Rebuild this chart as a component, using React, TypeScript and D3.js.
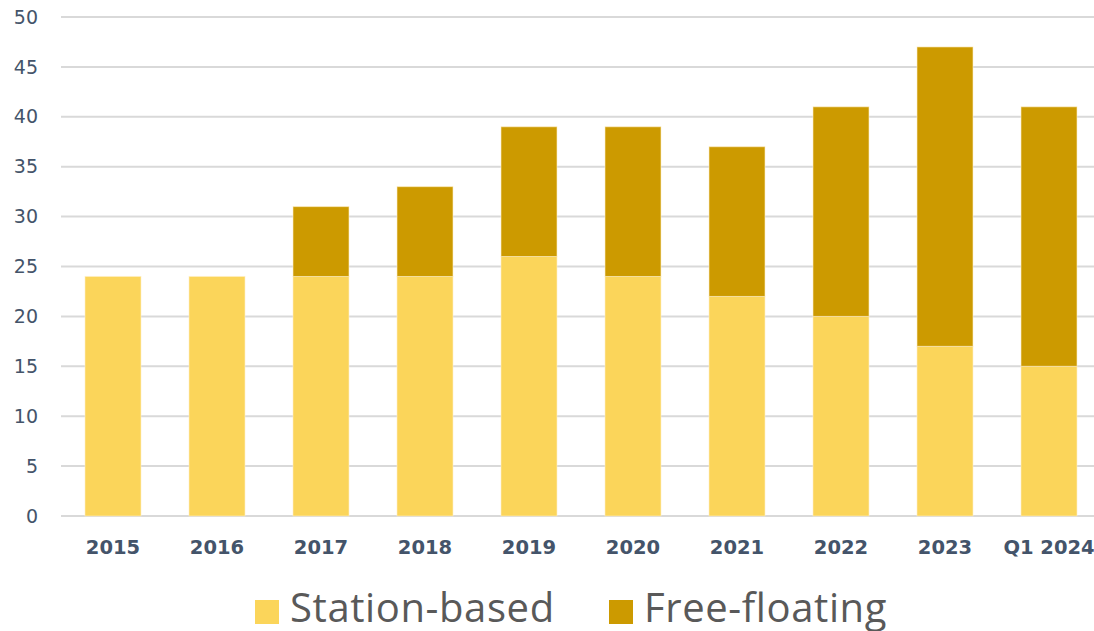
import React from "react";
import * as d3 from "d3";

const categories = ["2015", "2016", "2017", "2018", "2019", "2020", "2021", "2022", "2023", "Q1 2024"];
const stationBased = [24, 24, 24, 24, 26, 24, 22, 20, 17, 15];
const freeFloating = [0, 0, 7, 9, 13, 15, 15, 21, 30, 26];
const yTicks = [0, 5, 10, 15, 20, 25, 30, 35, 40, 45, 50];
const seriesNames = ["Station-based", "Free-floating"];
const colors = ["#FBD55A", "#CC9A00"];

export default function App() {
  const W = 1094, H = 631;
  const x = d3.scaleBand<string>().domain(categories).range([61, 1101]).paddingInner(48 / 104).paddingOuter(24 / 104);
  const y = d3.scaleLinear().domain([0, 50]).range([516, 17]);
  const stack = d3.stack<number>().keys(["0", "1"]).value((i, k) => (k === "0" ? stationBased[i] : freeFloating[i]));
  const series = stack(categories.map((_, i) => i));

  return (
    <svg width={W} height={H} style={{ position: "absolute", left: 0, top: 0, background: "#fff" }}>
      {yTicks.map((t) => (
        <g key={t}>
          <line x1={61} x2={1094} y1={y(t)} y2={y(t)} stroke="#d9d9d9" strokeWidth={2} />
          <text x={38} y={y(t)} dy="0.35em" textAnchor="end" fontFamily="DejaVu Sans" fontSize={19} fill="#44546A">{t}</text>
        </g>
      ))}
      {series.map((s, si) => (
        <g key={si} fill={colors[si]}>
          {s.map((d, i) => (d[1] - d[0] > 0 ? (
            <rect key={i} x={x(categories[i])} width={x.bandwidth()} y={y(d[1])} height={y(d[0]) - y(d[1])} stroke="rgba(255,240,200,0.6)" strokeWidth={1} />
          ) : null))}
        </g>
      ))}
      {categories.map((c) => (
        <text key={c} x={(x(c) as number) + x.bandwidth() / 2} y={547} dy="0.35em" textAnchor="middle" fontFamily="DejaVu Sans" fontWeight="bold" fontSize={19.5} fill="#44546A">{c}</text>
      ))}
      {seriesNames.map((n, i) => {
        const lx = [255, 609][i];
        return (
          <g key={n}>
            <rect x={lx} y={600} width={24} height={24} fill={colors[i]} />
            <text x={lx + 35} y={622} fontFamily="Open Sans" fontSize={40} letterSpacing={0.6} fill="#595959">{n}</text>
          </g>
        );
      })}
    </svg>
  );
}
